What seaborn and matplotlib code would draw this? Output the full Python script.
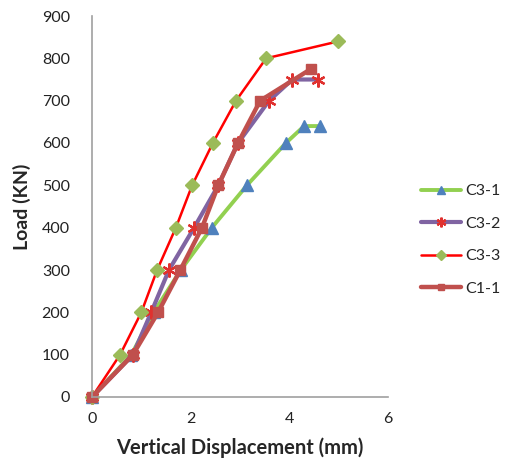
import matplotlib
matplotlib.use("Agg")
import matplotlib.pyplot as plt
import seaborn as sns
import pandas as pd

# ---- data ----
series_names = ["C3-1", "C3-2", "C3-3", "C1-1"]
c3_1_x = [0, 0.80, 1.25, 1.80, 2.43, 3.14, 3.93, 4.30, 4.62]
c3_1_y = [0, 100, 200, 300, 400, 500, 600, 640, 640]
c3_2_x = [0, 0.83, 1.20, 1.56, 2.07, 2.56, 2.96, 3.59, 4.06, 4.58]
c3_2_y = [0, 100, 200, 300, 400, 500, 600, 700, 750, 750]
c3_3_x = [0, 0.57, 1.00, 1.32, 1.70, 2.03, 2.45, 2.92, 3.53, 4.99]
c3_3_y = [0, 100, 200, 300, 400, 500, 600, 700, 800, 840]
c1_1_x = [0, 0.83, 1.34, 1.79, 2.23, 2.56, 2.96, 3.41, 4.44]
c1_1_y = [0, 100, 200, 300, 400, 500, 600, 700, 775]
x_ticks = [0, 2, 4, 6]
y_ticks = [0, 100, 200, 300, 400, 500, 600, 700, 800, 900]

sns.set_style("white")
plt.rcParams["font.family"] = ["Lato", "DejaVu Sans"]

fig = plt.figure(figsize=(5.08, 4.66), dpi=100)
ax = fig.add_axes([92 / 508, 1 - 397 / 466, (388 - 92) / 508, (397 - 16) / 466])

styles = {
    "C3-1": dict(color="#92D050", lw=2.8, marker="^", mfc="#4F81BD", mec="#4F81BD", ms=8, mew=1),
    "C3-2": dict(color="#8064A2", lw=3.0, marker=(6, 2, 0), mfc="#E0312F", mec="#E0312F", ms=10, mew=1.6),
    "C3-3": dict(color="#FF0000", lw=1.8, marker="D", mfc="#9BBB59", mec="#9BBB59", ms=7, mew=1),
    "C1-1": dict(color="#C0504D", lw=3.2, marker="s", mfc="#C0504D", mec="#C0504D", ms=7, mew=1),
}
data = {
    "C3-1": (c3_1_x, c3_1_y),
    "C3-2": (c3_2_x, c3_2_y),
    "C3-3": (c3_3_x, c3_3_y),
    "C1-1": (c1_1_x, c1_1_y),
}

for name in series_names:
    xs, ys = data[name]
    df = pd.DataFrame({"x": xs, "y": ys})
    st = styles[name]
    sns.lineplot(data=df, x="x", y="y", ax=ax, sort=False, label=name,
                 color=st["color"], linewidth=st["lw"], marker=st["marker"],
                 markerfacecolor=st["mfc"], markeredgecolor=st["mec"],
                 markersize=st["ms"], markeredgewidth=st["mew"])

ax.set_xlim(0, 6)
ax.set_ylim(0, 900)
ax.set_xticks(x_ticks)
ax.set_yticks(y_ticks)
ax.tick_params(axis="both", labelsize=11.5, length=0, colors="#222222")
ax.tick_params(axis="x", pad=11)
ax.tick_params(axis="y", pad=16)
for s in ["top", "right"]:
    ax.spines[s].set_visible(False)
for s in ["left", "bottom"]:
    ax.spines[s].set_color("#A0A0A0")
    ax.spines[s].set_linewidth(1.2)
for ln in ax.lines:
    ln.set_clip_on(False)

ax.set_xlabel("Vertical Displacement (mm)", fontsize=14.5, fontweight="bold", labelpad=8)
ax.set_ylabel("Load (KN)", fontsize=14, fontweight="bold", labelpad=8)

leg = ax.legend(loc="upper left", bbox_to_anchor=(421 / 508, 1 - 184 / 466),
                bbox_transform=fig.transFigure, frameon=False, fontsize=11.5,
                handlelength=2.5, labelspacing=1.15, handletextpad=0.3,
                borderpad=0, borderaxespad=0, markerscale=0.7)

fig.savefig("out.png", dpi=100)
